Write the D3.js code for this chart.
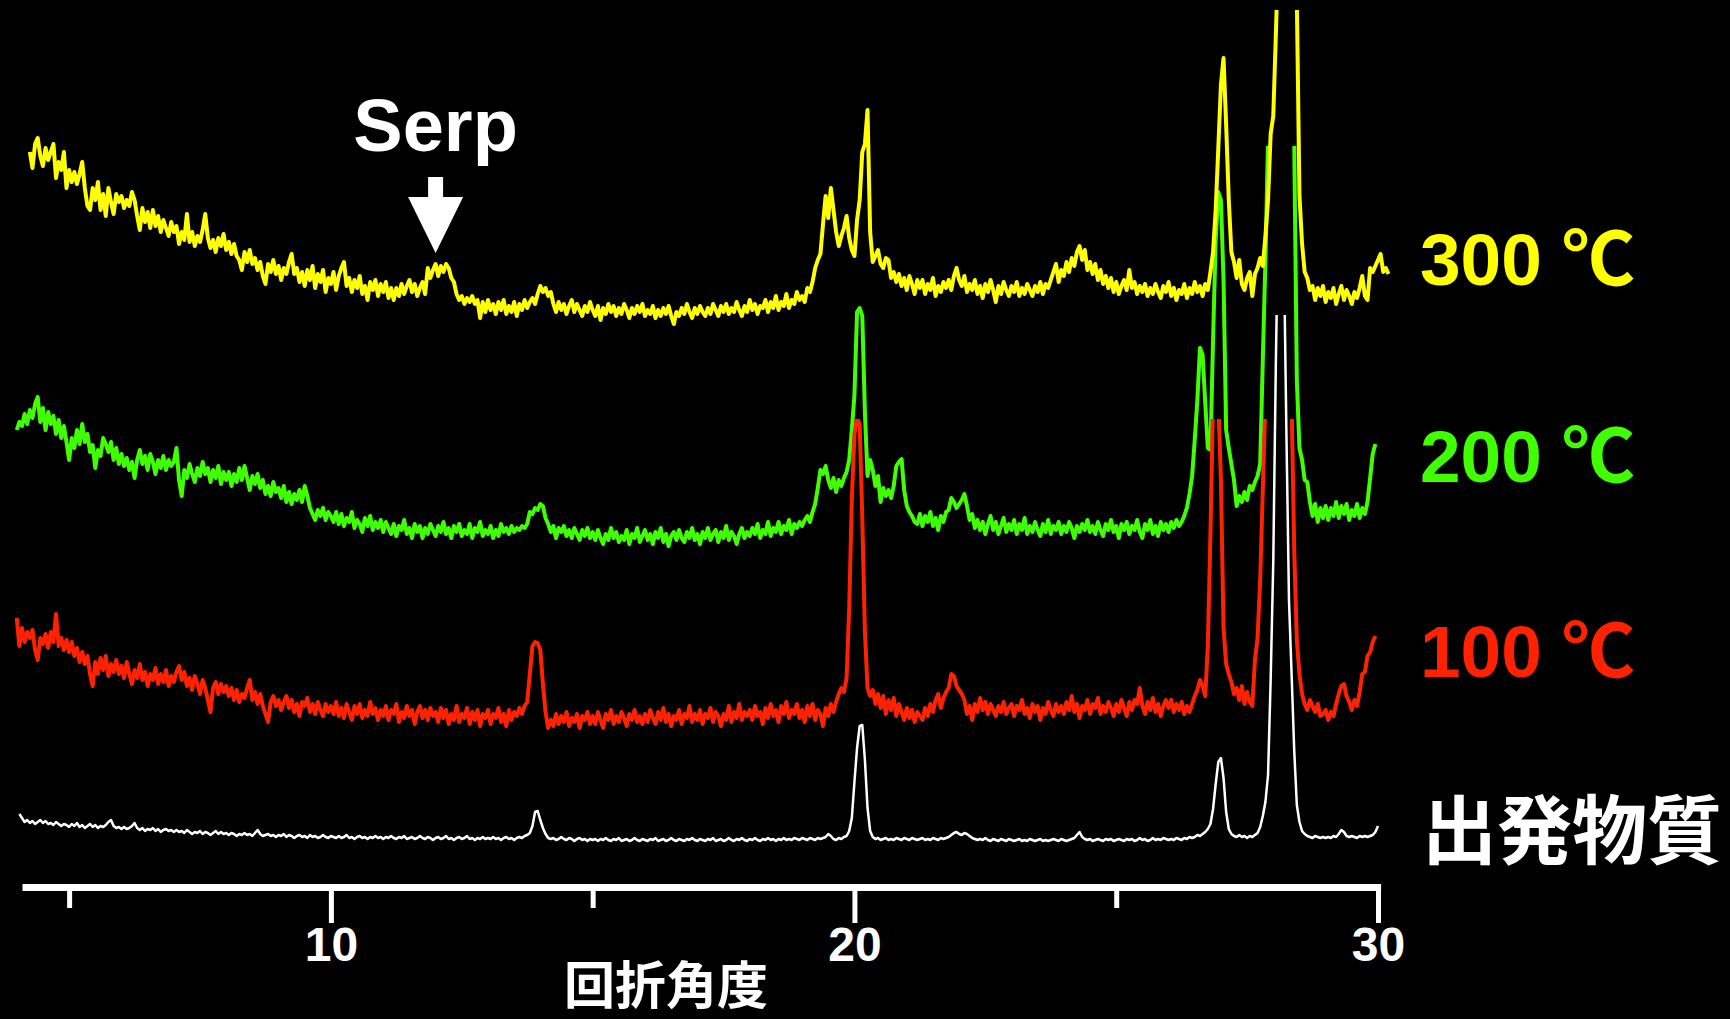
<!DOCTYPE html>
<html>
<head>
<meta charset="utf-8">
<script src="https://cdn.jsdelivr.net/npm/d3@7"></script>
<style>
  html, body { margin: 0; padding: 0; background: #000; }
  svg { display: block; }
</style>
</head>
<body>
<svg id="chart" width="1730" height="1019"></svg>
<script>
// ---------------- data ----------------
// XRD patterns, 2θ sampled every 0.05°, intensities in stacked arbitrary units
const STEP = 0.05;
const seriesLabels = ["300 ℃", "200 ℃", "100 ℃", "出発物質"];
const seriesStart = [4.25, 4.00, 4.00, 4.05];   // first 2θ of each pattern

// 300 ℃
const i300 = [
  748,732,756,762,744,734,752,740,748,756,722,738,730,748,712,730,718,728,716,726,
  738,712,694,690,712,700,718,690,706,684,712,698,686,706,698,704,692,700,694,708,
  700,684,670,692,678,688,672,690,674,684,668,680,672,664,678,668,674,656,668,660,
  686,658,668,654,664,658,670,686,662,652,660,648,662,654,666,650,658,646,656,644,
  640,630,648,638,650,636,642,630,638,624,616,636,628,640,626,634,620,632,626,638,
  646,626,632,618,628,614,630,620,634,612,626,618,630,608,622,616,628,610,624,632,
  638,614,622,608,620,612,624,606,614,600,618,610,620,604,616,608,618,602,612,600,
  612,604,616,606,614,620,608,616,604,612,618,606,632,622,630,636,624,634,628,636,
  632,622,618,606,600,604,596,602,598,604,596,600,582,598,588,600,590,596,586,598,
  590,600,586,594,588,598,584,596,590,600,592,598,602,596,606,614,608,612,604,608,
  596,588,598,590,596,586,594,600,588,596,590,584,594,588,598,590,584,594,580,592,
  586,596,588,594,584,592,586,596,590,582,592,586,594,588,596,584,590,586,594,582,
  590,584,592,586,594,584,576,588,584,592,586,596,588,582,592,586,594,588,584,592,
  586,596,590,584,594,588,596,586,592,588,598,590,584,594,588,600,590,596,586,594,
  592,600,588,598,592,604,590,598,594,606,592,600,596,608,600,604,598,612,608,618,
  632,640,646,676,704,682,712,690,668,654,664,672,684,662,650,644,680,700,748,756,
  790,668,638,644,650,636,632,642,640,622,628,618,626,614,622,610,624,616,606,620,
  612,620,606,616,610,622,604,614,608,618,612,620,610,624,632,620,614,624,608,616,
  610,620,606,614,602,616,608,620,610,598,614,606,618,610,604,614,608,618,604,612,
  606,616,610,604,614,608,618,606,616,612,620,628,636,618,630,624,638,628,642,634,
  648,654,640,650,630,638,626,636,620,630,616,624,612,622,608,618,606,614,620,610,
  630,612,618,606,614,608,616,604,612,606,616,608,602,614,608,618,604,612,600,610,
  606,616,602,612,606,618,608,614,604,616,610,628,648,690,752,815,842,775,700,648,
  638,622,640,616,610,622,628,604,626,632,642,634,664,700,766,784,866,960,1100,1200,
  1250,1250,1150,1000,900,705,656,628,622,610,614,600,612,604,614,598,608,602,612,596,
  606,614,600,610,604,596,608,602,612,624,604,600,632,628,634,640,646,628,632,626
];

// 200 ℃
const i200 = [
  470,478,474,486,476,490,482,496,503,478,492,470,488,476,484,466,480,462,474,458,
  440,462,452,470,456,476,458,466,448,455,432,450,444,462,456,448,458,440,452,436,
  446,434,442,430,438,422,440,450,436,444,430,446,438,426,440,432,444,430,440,434,
  438,452,420,404,430,422,436,426,418,432,424,438,426,432,418,430,422,434,416,428,
  420,428,414,426,418,432,420,434,422,410,424,416,426,412,420,406,414,404,418,408,
  412,402,414,398,408,396,406,400,410,398,414,404,392,386,380,390,384,392,380,388,
  384,378,388,376,386,374,382,378,388,372,380,376,368,382,374,384,370,378,372,380,
  368,378,372,366,376,364,374,370,380,366,372,362,376,368,374,362,372,366,376,370,
  364,374,368,378,366,372,362,374,368,376,364,370,366,376,362,372,368,378,364,370,
  366,374,362,370,364,376,368,372,366,374,368,372,370,374,372,376,388,386,392,390,
  396,394,382,376,368,374,362,372,368,374,364,370,362,372,366,360,370,364,372,362,
  368,360,370,362,356,366,360,372,362,368,358,364,360,370,356,366,362,372,358,364,
  370,360,366,356,368,362,372,358,366,354,364,368,360,370,362,358,368,362,372,360,
  366,356,368,362,372,360,366,370,358,368,362,374,360,368,364,356,366,372,362,368,
  364,372,366,376,362,370,366,378,364,372,368,378,366,374,370,380,366,376,372,378,
  374,380,384,378,388,396,412,430,426,434,420,412,422,408,420,414,422,428,440,470,
  505,588,592,584,488,424,440,430,414,424,398,412,404,410,402,414,434,438,441,410,
  394,388,384,378,376,386,374,384,378,388,374,382,370,384,378,388,390,402,398,392,
  396,400,406,394,380,386,372,380,370,378,366,376,384,370,378,366,374,382,368,376,
  370,380,366,376,370,382,366,374,368,378,370,364,376,368,380,366,374,370,378,366,
  374,368,378,372,362,374,368,376,370,380,368,374,366,378,370,364,376,370,380,368,
  374,362,376,370,378,366,374,370,380,368,362,376,370,380,366,374,364,378,370,376,
  368,378,372,380,374,378,384,392,406,424,460,500,552,545,498,452,450,560,660,708,
  700,620,470,452,436,420,394,404,398,408,400,414,410,418,424,436,540,640,760,880,
  980,1050,1100,1120,1100,1060,1000,900,760,520,452,440,420,418,398,384,396,378,392,382,
  394,380,392,384,398,382,394,386,396,380,390,384,396,382,392,386,398,422,446,456
];

// 100 ℃
const i100 = [
  282,254,272,258,268,262,270,250,240,262,256,266,252,268,258,286,254,262,250,260,
  248,258,244,252,238,248,236,244,226,214,238,226,242,230,244,224,236,228,240,226,
  234,222,238,226,216,230,222,236,220,228,214,226,220,232,216,226,218,230,214,224,
  218,228,234,220,228,214,222,210,224,216,206,220,212,200,188,212,218,206,216,208,
  214,204,212,200,210,198,206,202,212,220,200,208,196,206,194,186,178,198,204,194,
  200,190,198,204,192,200,188,196,184,198,194,202,188,196,186,198,190,184,196,188,
  194,186,198,184,192,182,196,188,180,194,186,196,182,190,184,198,186,192,180,190,
  184,194,180,190,186,196,178,188,182,194,184,190,176,188,194,182,190,180,192,184,
  188,178,192,182,190,176,186,180,194,178,186,182,192,176,188,180,190,174,186,182,
  190,176,186,182,192,178,186,174,190,180,188,184,192,186,194,198,226,254,258,257,
  250,216,188,172,180,174,186,176,184,178,188,174,182,178,186,172,184,180,188,176,
  184,176,188,180,172,186,180,190,176,184,178,188,182,174,186,180,190,178,184,176,
  186,178,190,182,176,188,180,192,178,186,174,184,180,190,176,186,182,194,178,186,
  180,190,176,186,182,192,178,188,184,174,186,180,194,178,188,182,196,180,188,184,
  190,180,194,184,188,176,192,182,196,184,190,178,194,186,198,182,190,186,196,182,
  190,178,194,184,196,180,190,186,174,192,184,196,188,198,206,212,208,222,292,400,
  466,482,476,382,268,212,204,210,196,206,192,204,186,200,190,202,184,196,188,180,
  192,182,190,178,188,184,180,192,184,196,188,200,206,192,202,208,212,226,224,214,
  210,206,200,186,194,180,196,188,202,190,198,186,196,190,184,194,188,198,186,192,
  196,184,194,190,200,186,192,182,196,188,194,180,192,186,198,190,184,196,188,194,
  186,198,190,204,188,196,182,194,190,200,186,196,192,202,186,194,188,198,192,184,
  196,188,200,192,184,198,190,200,196,212,194,186,198,190,202,188,196,184,194,200,
  192,200,188,196,190,198,186,194,188,196,204,210,220,214,204,254,366,500,540,500,
  420,272,236,226,218,206,212,200,214,196,208,198,194,240,262,320,410,500,620,720,
  800,860,900,900,860,760,620,500,350,260,226,206,196,190,200,194,188,196,184,186,
  190,180,188,184,196,206,214,216,204,198,190,200,194,208,226,228,244,248,258,264
];

// starting material
const iRaw = [
  86,82,78,80,77,79,76,78,80,77,79,76,77,75,78,76,74,76,75,73,
  76,74,77,73,75,72,74,76,73,75,72,74,73,75,78,80,74,72,73,71,
  73,71,72,74,77,72,70,72,69,71,70,72,69,71,68,70,71,69,70,68,
  70,68,69,67,70,68,66,68,67,69,66,68,67,65,67,69,66,68,66,67,
  65,67,66,64,66,65,67,65,66,64,67,70,66,64,65,66,64,65,63,65,
  64,66,63,65,64,62,64,65,63,64,62,65,63,64,62,63,65,63,62,64,
  63,62,64,62,63,65,62,63,61,63,64,62,63,61,63,62,64,62,63,61,
  63,62,64,62,61,63,62,64,61,62,63,61,62,64,62,61,63,62,60,62,
  63,61,62,64,61,62,60,62,63,61,62,64,61,62,60,62,61,63,61,62,
  61,63,61,62,60,62,63,61,62,60,62,63,62,64,65,67,74,88,89,80,
  72,66,62,61,62,60,61,63,61,60,62,61,59,61,62,60,61,59,61,60,
  61,59,61,60,62,60,59,61,60,62,59,60,61,59,60,62,60,59,61,60,
  59,61,60,62,59,60,61,59,60,62,60,59,61,60,59,61,60,62,60,59,
  61,60,59,61,60,62,59,60,61,59,60,62,60,59,61,60,62,60,59,61,
  60,62,60,59,61,60,62,60,61,59,61,60,62,60,61,60,62,61,60,62,
  61,60,62,61,60,62,61,62,63,66,64,61,60,62,61,63,64,69,82,118,
  152,174,175,140,92,69,63,61,62,60,61,62,60,61,60,62,61,60,62,61,
  60,62,61,60,61,62,60,61,60,62,61,60,62,61,62,63,65,67,68,66,
  65,67,66,64,62,61,60,61,60,62,60,59,61,60,59,61,60,59,61,60,
  59,60,61,59,60,59,61,60,59,60,61,59,60,59,60,61,60,59,61,60,
  59,60,61,62,65,68,63,61,60,61,59,60,61,60,59,61,60,61,59,60,
  61,60,59,61,60,61,59,60,62,60,61,59,60,62,60,61,60,62,61,60,
  61,60,62,61,60,62,61,63,62,63,65,64,66,68,71,76,91,116,138,142,
  122,88,71,66,64,63,65,63,64,62,64,63,65,67,73,84,98,125,220,338,
  540,700,760,660,470,300,226,150,95,78,69,66,64,63,62,64,63,62,63,62,
  63,62,64,63,66,70,68,64,63,64,63,62,64,63,64,63,64,65,68,74
];

const seriesValues = [i300, i200, i100, iRaw];

const majorTicks = [10, 20, 30];
const minorTicks = [5, 15, 25];
const tickLabels = ["10", "20", "30"];
const axisTitle = "回折角度";
const markerAngle = 12.0;
const markerLabel = "Serp";

// ---------------- layout & style ----------------
const W = 1730, H = 1019;
const colors = ["#ffff00", "#40ff00", "#ff2200", "#ffffff"];
const lineWidths = [4, 4, 4, 2.5];
const ceilings = [890, 754, 481, 585];       // each trace is cut off above this level
const drawOrder = [1, 2, 0, 3];
const labelX = 1420;
const labelBaselines = [285, 482, 677, 858];
const axisY = 887;
const latin = "'Liberation Sans', Arial, Helvetica, sans-serif";
const cjk = "'Noto Sans CJK JP', 'Noto Sans CJK SC', sans-serif";

const svg = d3.select("#chart");
svg.append("rect").attr("width", W).attr("height", H).attr("fill", "#000");

const x = d3.scaleLinear().domain([4.1, 30.05]).range([22, 1380.6]);
const y = d3.scaleLinear().domain([0, 900]).range([900, 0]);

// clip regions
const defs = svg.append("defs");
seriesValues.forEach((_, i) => {
  defs.append("clipPath").attr("id", "cut" + i)
    .append("rect")
    .attr("x", 0).attr("y", y(ceilings[i]))
    .attr("width", W).attr("height", H - y(ceilings[i]));
});

// patterns
const plot = svg.append("g");
drawOrder.forEach(i => {
  const start = seriesStart[i];
  const line = d3.line()
    .x((d, k) => x(start + k * STEP))
    .y(d => y(d));
  plot.append("path")
    .datum(seriesValues[i])
    .attr("clip-path", `url(#cut${i})`)
    .attr("fill", "none")
    .attr("stroke", colors[i])
    .attr("stroke-width", lineWidths[i])
    .attr("stroke-linejoin", "round")
    .attr("d", line);
});

// x axis: major ticks with labels
const gMajor = svg.append("g")
  .attr("transform", `translate(0,${axisY})`)
  .call(d3.axisBottom(x)
    .tickValues(majorTicks)
    .tickSize(36)
    .tickSizeOuter(0)
    .tickPadding(4)
    .tickFormat((d, i) => tickLabels[i]));
gMajor.select(".domain").attr("stroke", "#fff").attr("stroke-width", 7);
gMajor.selectAll(".tick line").attr("stroke", "#fff").attr("stroke-width", 5);
gMajor.selectAll(".tick text")
  .attr("fill", "#fff")
  .attr("font-family", latin)
  .attr("font-weight", "bold")
  .attr("font-size", 48);

// x axis: minor ticks
const gMinor = svg.append("g")
  .attr("transform", `translate(0,${axisY})`)
  .call(d3.axisBottom(x)
    .tickValues(minorTicks)
    .tickSize(21)
    .tickSizeOuter(0)
    .tickFormat(() => ""));
gMinor.select(".domain").remove();
gMinor.selectAll(".tick line").attr("stroke", "#fff").attr("stroke-width", 5);

// axis title
svg.append("text")
  .attr("x", 666).attr("y", 1004)
  .attr("text-anchor", "middle")
  .attr("fill", "#fff")
  .attr("font-family", cjk)
  .attr("font-weight", "bold")
  .attr("font-size", 51)
  .text(axisTitle);

// series labels
seriesLabels.forEach((lab, i) => {
  const isCjk = i === 3;
  svg.append("text")
    .attr("x", labelX + (isCjk ? 2 : 0))
    .attr("y", labelBaselines[i])
    .attr("fill", colors[i])
    .attr("font-family", isCjk ? cjk : latin + ", " + cjk)
    .attr("font-weight", "bold")
    .attr("font-size", isCjk ? 75 : 73)
    .text(lab);
});

// marker: label with downward arrow
const mx = x(markerAngle);
svg.append("text")
  .attr("x", mx).attr("y", 151)
  .attr("text-anchor", "middle")
  .attr("fill", "#fff")
  .attr("font-family", latin)
  .attr("font-weight", "bold")
  .attr("font-size", 74)
  .text(markerLabel);
svg.append("path")
  .attr("fill", "#fff")
  .attr("d", `M${mx - 7.5},177 H${mx + 7.5} V197 H${mx + 27.5} L${mx},253 L${mx - 27.5},197 H${mx - 7.5} Z`);
</script>
</body>
</html>
